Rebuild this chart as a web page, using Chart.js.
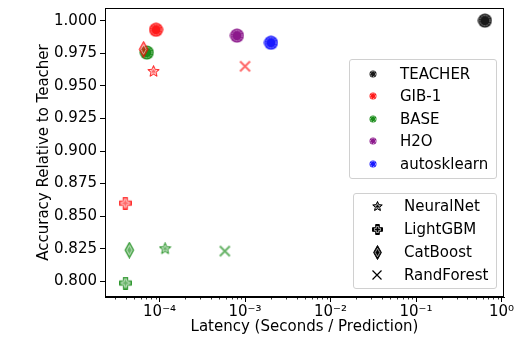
<!DOCTYPE html>
<html>
<head>
<meta charset="utf-8">
<script src="https://cdn.jsdelivr.net/npm/chart.js@4.4.1/dist/chart.umd.min.js"></script>
<style>
  body { margin: 0; background: #fff; font-family: "DejaVu Sans", sans-serif; }
  #wrap { position: relative; width: 514px; height: 340px; }
  .legend { position: absolute; border: 1px solid #d0d0d0; border-radius: 3px; background: rgba(255,255,255,0.85); box-sizing: border-box; }
  .row { position: absolute; left: 0; right: 0; height: 20px; font-size: 15px; line-height: 20px; color: #000; white-space: nowrap; }
  .row canvas { position: absolute; }
  .row span { position: absolute; left: 50px; top: 0; }
</style>
</head>
<body>
<div id="wrap">
  <canvas id="chart" width="514" height="340"></canvas>
  <div class="legend" id="legMethods" style="left:349px;top:59px;width:148px;height:120px;"></div>
  <div class="legend" id="legModels" style="left:353px;top:193px;width:144px;height:96px;"></div>
</div>
<script>
// values
const methods = ['TEACHER', 'GIB-1', 'BASE', 'H2O', 'autosklearn'];
const methodColors = ['#000000', '#ff0000', '#008000', '#800080', '#0000ff'];
const models = ['NeuralNet', 'LightGBM', 'CatBoost', 'RandForest'];

const teacherModels = ['Ensemble'];
const teacherLatency = [0.64];
const teacherAccuracy = [1.000];

const gibModels = ['Ensemble', 'NeuralNet', 'LightGBM', 'CatBoost', 'RandForest'];
const gibLatency = [9.1e-5, 8.5e-5, 3.97e-5, 6.5e-5, 1.0e-3];
const gibAccuracy = [0.993, 0.961, 0.860, 0.978, 0.965];

const baseModels = ['Ensemble', 'NeuralNet', 'LightGBM', 'CatBoost', 'RandForest'];
const baseLatency = [7.1e-5, 1.16e-4, 4.0e-5, 4.43e-5, 5.8e-4];
const baseAccuracy = [0.9755, 0.825, 0.7987, 0.824, 0.8232];

const h2oModels = ['Ensemble'];
const h2oLatency = [8.05e-4];
const h2oAccuracy = [0.9885];

const autoModels = ['Ensemble'];
const autoLatency = [2.01e-3];
const autoAccuracy = [0.983];

const yTicks = [0.800, 0.825, 0.850, 0.875, 0.900, 0.925, 0.950, 0.975, 1.000];
const xTicks = [1e-4, 1e-3, 1e-2, 1e-1, 1];

// marker shapes
const shapeFor = { Ensemble: 'circle', NeuralNet: 'star', LightGBM: 'plus', CatBoost: 'diamond', RandForest: 'x' };

function rgba(hex, a) {
  const n = parseInt(hex.slice(1), 16);
  return 'rgba(' + (n >> 16) + ',' + ((n >> 8) & 255) + ',' + (n & 255) + ',' + a + ')';
}

function shapePath(g, shape, s, k) {
  const r = (s / 2 - 0.5) * k;
  g.beginPath();
  if (shape === 'circle') {
    g.arc(0, 0, r, 0, Math.PI * 2);
  } else if (shape === 'star') {
    for (let i = 0; i < 10; i++) {
      const rr = i % 2 ? r * 0.45 : r;
      const a = -Math.PI / 2 + i * Math.PI / 5;
      g.lineTo(Math.cos(a) * rr, Math.sin(a) * rr);
    }
    g.closePath();
  } else if (shape === 'plus') {
    const w = r * 0.36;
    g.moveTo(-w, -r); g.lineTo(w, -r); g.lineTo(w, -w); g.lineTo(r, -w); g.lineTo(r, w);
    g.lineTo(w, w); g.lineTo(w, r); g.lineTo(-w, r); g.lineTo(-w, w); g.lineTo(-r, w);
    g.lineTo(-r, -w); g.lineTo(-w, -w);
    g.closePath();
  } else if (shape === 'diamond') {
    const w = r * 0.55;
    g.moveTo(0, -r); g.lineTo(w, 0); g.lineTo(0, r); g.lineTo(-w, 0);
    g.closePath();
  }
}

function marker(shape, color, alpha, s, xWidth) {
  const c = document.createElement('canvas');
  c.width = s; c.height = s;
  const g = c.getContext('2d');
  g.translate(s / 2, s / 2);
  if (shape === 'x') {
    const r = s / 2 - 1.5;
    g.strokeStyle = rgba(color, alpha);
    g.lineWidth = xWidth || 2;
    g.beginPath();
    g.moveTo(-r, -r); g.lineTo(r, r);
    g.moveTo(-r, r); g.lineTo(r, -r);
    g.stroke();
    return c;
  }
  shapePath(g, shape, s, 1);
  g.fillStyle = rgba(color, alpha);
  g.fill();
  if (shape !== 'circle') {
    g.strokeStyle = rgba(color, Math.min(1, alpha + 0.15));
    g.lineWidth = 1;
    g.stroke();
  }
  // thin white inner outline
  shapePath(g, shape, s, shape === 'circle' ? 0.74 : 0.6);
  g.strokeStyle = 'rgba(255,255,255,0.75)';
  g.lineWidth = 0.8;
  if (shape === 'circle') g.setLineDash([1.5, 1]);
  g.stroke();
  return c;
}

const plotSize = { circle: 15, star: 13, plus: 13, diamond: 17, x: 13 };

function makeDataset(label, color, names, lat, acc) {
  const styles = names.map(m => {
    const sh = shapeFor[m];
    return marker(sh, color, sh === 'circle' ? 0.9 : 0.6, plotSize[sh]);
  });
  return {
    label: label,
    data: lat.map((v, i) => ({ x: v, y: acc[i] })),
    pointStyle: styles,
    pointRadius: 7,
    pointHoverRadius: 7
  };
}

const datasets = [
  makeDataset(methods[0], methodColors[0], teacherModels, teacherLatency, teacherAccuracy),
  makeDataset(methods[1], methodColors[1], gibModels, gibLatency, gibAccuracy),
  makeDataset(methods[2], methodColors[2], baseModels, baseLatency, baseAccuracy),
  makeDataset(methods[3], methodColors[3], h2oModels, h2oLatency, h2oAccuracy),
  makeDataset(methods[4], methodColors[4], autoModels, autoLatency, autoAccuracy)
];

const sup = { '-': '\u207B', '0': '\u2070', '1': '\u00B9', '2': '\u00B2', '3': '\u00B3', '4': '\u2074',
  '5': '\u2075', '6': '\u2076', '7': '\u2077', '8': '\u2078', '9': '\u2079' };
function powLabel(v) {
  const e = String(Math.round(Math.log10(v)));
  return '10' + e.split('').map(ch => sup[ch]).join('');
}

// frame on all four sides plus log minor ticks
const framePlugin = {
  id: 'frame',
  afterDraw(chart) {
    const { ctx, chartArea: a } = chart;
    const x = chart.scales.x;
    ctx.save();
    ctx.strokeStyle = '#000';
    ctx.lineWidth = 1;
    const l = Math.round(a.left) + 0.5, t = Math.round(a.top) + 0.5;
    const r = Math.round(a.right) - 0.5, b = Math.round(a.bottom) - 0.5;
    ctx.strokeRect(l, t, r - l, b - t);
    ctx.beginPath();
    for (let d = -5; d <= 0; d++) {
      for (let k = 2; k <= 9; k++) {
        const v = k * Math.pow(10, d);
        if (v < x.min || v > x.max) continue;
        const px = Math.round(x.getPixelForValue(v)) + 0.5;
        ctx.moveTo(px, b);
        ctx.lineTo(px, b + 3);
      }
    }
    ctx.lineWidth = 0.8;
    ctx.stroke();
    ctx.restore();
  }
};

Chart.defaults.font.family = '"DejaVu Sans", sans-serif';
Chart.defaults.font.size = 15;
Chart.defaults.color = '#000';

new Chart(document.getElementById('chart'), {
  type: 'scatter',
  data: { datasets: datasets },
  options: {
    responsive: false,
    animation: false,
    layout: { padding: { top: 1, right: 10, left: 0, bottom: 0 } },
    plugins: { legend: { display: false }, tooltip: { enabled: false } },
    scales: {
      x: {
        type: 'logarithmic',
        min: 2.3e-5,
        max: 1.07,
        afterBuildTicks: s => { s.ticks = xTicks.map(v => ({ value: v })); },
        afterFit: s => { s.height = 43; s.paddingLeft = 0; s.paddingRight = 0; },
        ticks: { callback: v => powLabel(v), maxRotation: 0, autoSkip: false, padding: 1, color: '#000' },
        grid: { drawOnChartArea: false, tickLength: 5, color: '#000' },
        border: { color: '#000' },
        title: { display: true, text: 'Latency (Seconds / Prediction)', color: '#000', padding: { top: 0, bottom: 4 } }
      },
      y: {
        min: 0.788,
        max: 1.0097,
        afterBuildTicks: s => { s.ticks = yTicks.map(v => ({ value: v })); },
        afterFit: s => { s.width = 105; s.paddingTop = 0; s.paddingBottom = 0; },
        ticks: { callback: v => v.toFixed(3), padding: 3, color: '#000' },
        grid: { drawOnChartArea: false, tickLength: 5, color: '#000' },
        border: { color: '#000' },
        title: { display: true, text: 'Accuracy Relative to Teacher', color: '#000', padding: { top: 35, bottom: 0 } }
      }
    }
  },
  plugins: [framePlugin]
});

// legends
function addRow(box, top, symbol, symX, text) {
  const row = document.createElement('div');
  row.className = 'row';
  row.style.top = (top - 10) + 'px';
  symbol.style.left = (symX - symbol.width / 2) + 'px';
  symbol.style.top = (10 - symbol.height / 2) + 'px';
  row.appendChild(symbol);
  const span = document.createElement('span');
  span.textContent = text;
  row.appendChild(span);
  box.appendChild(row);
}
const legM = document.getElementById('legMethods');
methods.forEach((m, i) => addRow(legM, 13.5 + i * 22.6, marker('circle', methodColors[i], 0.9, 8), 22.5, m));
const legSize = { star: 11, plus: 11, diamond: 15, x: 12 };
const legN = document.getElementById('legModels');
models.forEach((m, i) => {
  const sh = shapeFor[m];
  addRow(legN, 12 + i * 23, marker(sh, '#000000', 1, legSize[sh], 1.2), 23, m);
});
</script>
</body>
</html>
